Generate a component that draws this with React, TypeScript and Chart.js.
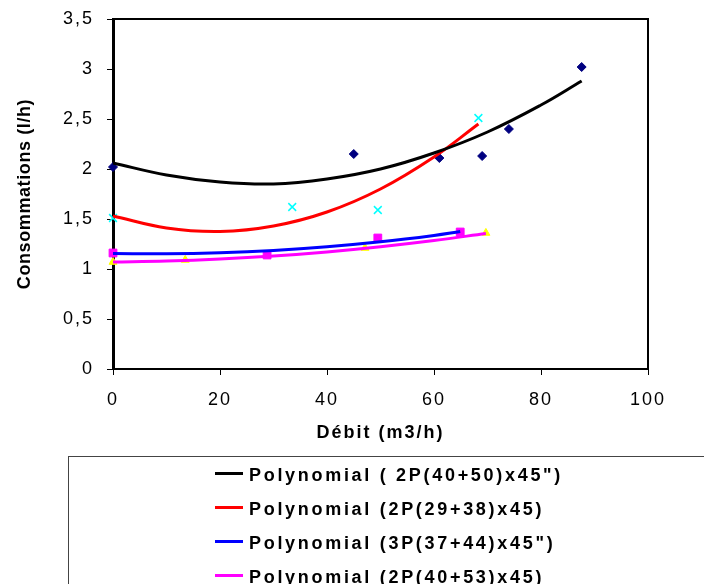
import React, { useEffect, useRef } from "react";
import { Chart, registerables } from "chart.js";

Chart.register(...registerables);

const FONT = "'Liberation Sans', Arial, Helvetica, sans-serif";

const s1X = [0, 45, 61, 69, 74, 87.6];
const s1Y = [2.02, 2.15, 2.11, 2.13, 2.4, 3.02];
const s2X = [0, 33.5, 49.5, 68.3];
const s2Y = [1.51, 1.62, 1.59, 2.51];
const s3X = [0, 28.8, 49.5, 64.9];
const s3Y = [1.16, 1.14, 1.31, 1.37];
const s4X = [0, 13.5, 47.1, 69.7];
const s4Y = [1.07, 1.09, 1.21, 1.36];

// Polynomial trendlines
const t1X = [0, 10, 20, 30, 40, 50, 60, 70, 80, 87.6];
const t1Y = [2.06, 1.94, 1.87, 1.85, 1.9, 2.0, 2.16, 2.37, 2.64, 2.88];
const t2X = [0, 10, 20, 30, 40, 50, 60, 68.3];
const t2Y = [1.53, 1.41, 1.375, 1.43, 1.57, 1.8, 2.12, 2.45];
const t3X = [0, 10, 20, 30, 40, 50, 60, 64.9];
const t3Y = [1.155, 1.152, 1.162, 1.185, 1.222, 1.272, 1.336, 1.375];
const t4X = [0, 10, 20, 30, 40, 50, 60, 69.7];
const t4Y = [1.07, 1.08, 1.1, 1.13, 1.171, 1.223, 1.285, 1.355];

const legendLabels = [
  'Polynomial ( 2P(40+50)x45")',
  "Polynomial (2P(29+38)x45)",
  'Polynomial (3P(37+44)x45")',
  "Polynomial (2P(40+53)x45)",
];
const lineColors = ["#000000", "#FF0000", "#0000FF", "#FF00FF"];

const xTitle = "Débit (m3/h)";
const yTitle = "Consommations (l/h)";

const pts = (xs: number[], ys: number[]) => xs.map((x, i) => ({ x, y: ys[i] }));

const spacingPlugin = {
  id: "spacing",
  beforeLayout(chart: any) {
    chart.ctx.letterSpacing = "2px";
  },
  beforeDraw(chart: any) {
    chart.ctx.letterSpacing = "2px";
    const s = chart.scales.y;
    if (s && !s.__patched) {
      const orig = s.drawTitle;
      s.drawTitle = function (...args: any[]) {
        chart.ctx.letterSpacing = "0.6px";
        orig.apply(this, args);
        chart.ctx.letterSpacing = "2px";
      };
      s.__patched = true;
    }
  },
};

const framePlugin = {
  id: "frame",
  afterDraw(chart: any) {
    const { ctx, chartArea: a } = chart;
    ctx.save();
    ctx.strokeStyle = "#000";
    ctx.lineWidth = 2;
    ctx.beginPath();
    ctx.moveTo(a.left, a.top);
    ctx.lineTo(a.right, a.top);
    ctx.lineTo(a.right, a.bottom);
    ctx.stroke();
    ctx.restore();
  },
};

export default function App() {
  const ref = useRef<HTMLCanvasElement>(null);

  useEffect(() => {
    if (!ref.current) return;
    const trend = (xs: number[], ys: number[], color: string) => ({
      type: "scatter" as const,
      data: pts(xs, ys),
      showLine: true,
      borderColor: color,
      backgroundColor: color,
      borderWidth: 3,
      pointRadius: 0,
      tension: 0.4,
      clip: false as any,
    });
    const chart = new Chart(ref.current, {
      type: "scatter",
      data: {
        datasets: [
          trend(t1X, t1Y, lineColors[0]),
          trend(t2X, t2Y, lineColors[1]),
          trend(t3X, t3Y, lineColors[2]),
          trend(t4X, t4Y, lineColors[3]),
          {
            data: pts(s1X, s1Y),
            pointStyle: "rectRot",
            pointRadius: 4.5,
            backgroundColor: "#000080",
            borderColor: "#000080",
            borderWidth: 1,
            clip: false as any,
          },
          {
            data: pts(s2X, s2Y),
            pointStyle: "crossRot",
            pointRadius: 5.5,
            backgroundColor: "#00FFFF",
            borderColor: "#00FFFF",
            borderWidth: 1.5,
            clip: false as any,
          },
          {
            data: pts(s3X, s3Y),
            pointStyle: "rect",
            pointRadius: 5.5,
            backgroundColor: "#FF00FF",
            borderColor: "#FF00FF",
            borderWidth: 1,
            clip: false as any,
          },
          {
            data: pts(s4X, s4Y),
            pointStyle: "triangle",
            pointRadius: 4.6,
            backgroundColor: "#FFFF00",
            borderColor: "#FFFF00",
            borderWidth: 1,
            clip: false as any,
          },
        ],
      },
      options: {
        animation: false,
        responsive: false,
        devicePixelRatio: 1,
        layout: { padding: { left: 0, top: 19, right: 56, bottom: 135 } },
        plugins: { legend: { display: false }, tooltip: { enabled: false } },
        scales: {
          x: {
            type: "linear",
            min: 0,
            max: 100,
            ticks: {
              stepSize: 20,
              padding: 14,
              color: "#000",
              font: { family: FONT, size: 18 },
            },
            grid: {
              drawOnChartArea: false,
              drawTicks: true,
              tickLength: 6,
              color: "#000",
              lineWidth: 1,
            },
            border: { display: true, color: "#000", width: 2 },
            title: {
              display: true,
              text: xTitle,
              color: "#000",
              font: { family: FONT, size: 18, weight: "bold" },
              padding: { top: 0, bottom: 5 },
            },
            afterFit: (s: any) => {
              s.height = 80;
            },
          },
          y: {
            type: "linear",
            min: 0,
            max: 3.5,
            ticks: {
              stepSize: 0.5,
              padding: 13,
              color: "#000",
              font: { family: FONT, size: 18 },
              callback: (v: any) => String(v).replace(".", ","),
            },
            grid: {
              drawOnChartArea: false,
              drawTicks: true,
              tickLength: 6,
              color: "#000",
              lineWidth: 1,
            },
            border: { display: true, color: "#000", width: 3 },
            title: {
              display: true,
              text: yTitle,
              color: "#000",
              font: { family: FONT, size: 18, weight: "bold" },
              padding: { top: 14, bottom: 0 },
            },
            afterFit: (s: any) => {
              s.width = 113;
              s.paddingTop = 0;
              s.paddingBottom = 0;
            },
          },
        },
      },
      plugins: [spacingPlugin, framePlugin],
    } as any);
    return () => chart.destroy();
  }, []);

  return (
    <div
      style={{
        position: "absolute",
        left: 0,
        top: 0,
        width: 704,
        height: 584,
        overflow: "hidden",
        background: "#fff",
      }}
    >
      <canvas ref={ref} width={704} height={584} style={{ position: "absolute", left: 0, top: 0 }} />
      <div
        style={{
          position: "absolute",
          left: 68,
          top: 456,
          width: 700,
          height: 200,
          border: "1px solid #444",
          boxSizing: "border-box",
        }}
      />
      {legendLabels.map((label, i) => {
        const cy = 473.5 + i * 34;
        return (
          <React.Fragment key={label}>
            <div
              style={{
                position: "absolute",
                left: 215,
                top: cy - 1.5,
                width: 28,
                height: 3,
                background: lineColors[i],
              }}
            />
            <span
              style={{
                position: "absolute",
                left: 249,
                top: cy + 1.5 - 10,
                font: `bold 18px ${FONT}`,
                lineHeight: "20px",
                letterSpacing: "2.7px",
                whiteSpace: "nowrap",
                color: "#000",
              }}
            >
              {label}
            </span>
          </React.Fragment>
        );
      })}
    </div>
  );
}
